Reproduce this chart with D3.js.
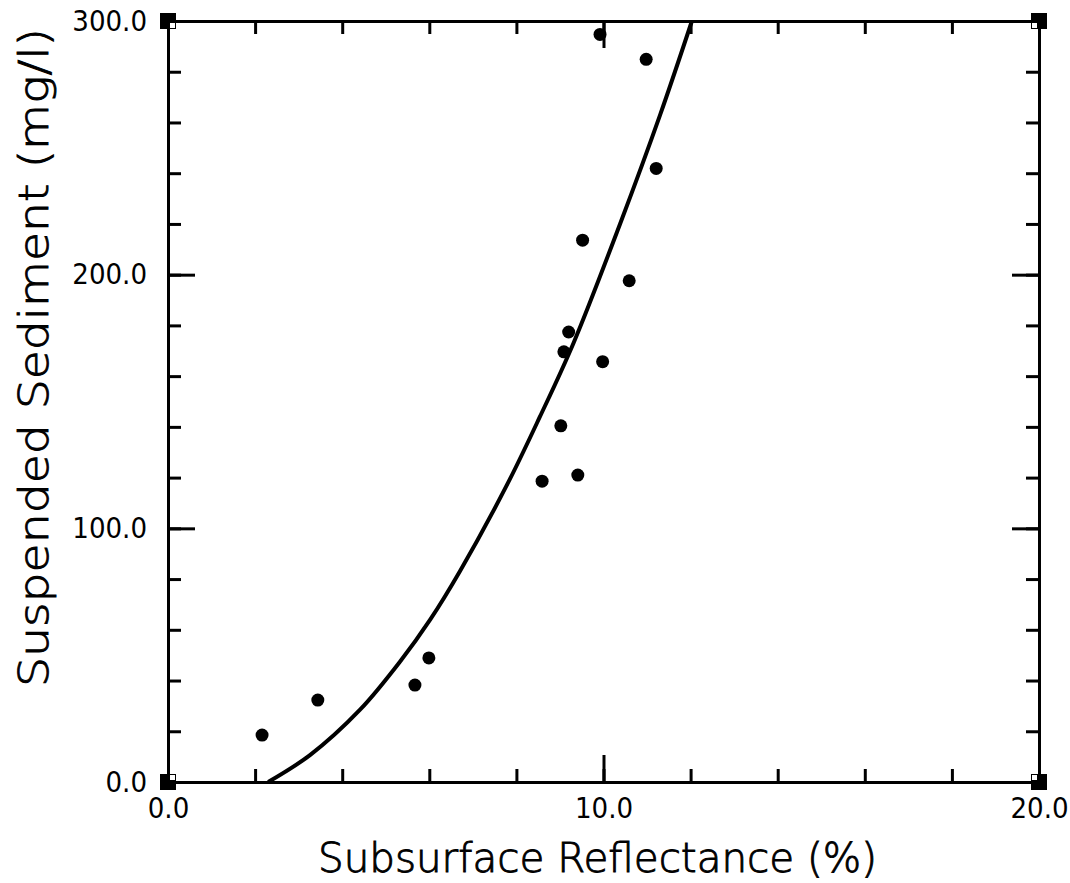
<!DOCTYPE html>
<html>
<head>
<meta charset="utf-8">
<script src="https://cdn.jsdelivr.net/npm/d3@7"></script>
<style>
  body { margin: 0; background: #fff; }
  .canvas text { fill: #000; }
</style>
</head>
<body>
<div class="canvas"></div>
<script>
// ---- data ----
const reflectance = [2.16, 3.44, 5.67, 5.99, 8.59, 9.41, 9.02, 9.09, 9.20, 9.98, 10.59, 9.52, 11.21, 10.98, 9.92];
const sediment    = [18.5, 32.3, 38.2, 48.9, 118.6, 121.0, 140.4, 169.6, 177.4, 165.7, 197.6, 213.6, 241.9, 284.9, 294.7];

// fitted curve
const curveX = [2.30, 3.26, 4.41, 5.33, 6.02, 6.70, 7.78, 8.54, 9.31, 10.38, 11.30, 12.03];
const curveY = [0, 10.6, 28.5, 47.5, 64.0, 83.0, 117.0, 144.0, 173.0, 220.0, 263.0, 300.0];

const xMinorTicks = [0, 2, 4, 6, 8, 10, 12, 14, 16, 18, 20];
const xMajorTicks = [0, 10, 20];
const yMinorTicks = [0, 20, 40, 60, 80, 100, 120, 140, 160, 180, 200, 220, 240, 260, 280, 300];
const yMajorTicks = [0, 100, 200, 300];

const xTitle = 'Subsurface Reflectance (%)';
const yTitle = 'Suspended Sediment (mg/l)';

// ---- layout ----
const width = 1070, height = 883;
const margin = { top: 21, right: 31, bottom: 101, left: 168 };
const graphWidth = width - margin.left - margin.right;
const graphHeight = height - margin.top - margin.bottom;

const svg = d3.select('.canvas')
    .append('svg')
    .attr('width', width)
    .attr('height', height);

const graph = svg.append('g')
    .attr('transform', `translate(${margin.left}, ${margin.top})`);

const x = d3.scaleLinear().domain([0, 20]).range([0, graphWidth]);
const y = d3.scaleLinear().domain([0, 300]).range([graphHeight, 0]);

const labelFont = '"DejaVu Sans Condensed", "DejaVu Sans", sans-serif';
const titleFont = '"DejaVu Sans", sans-serif';
const fmt = d3.format('.1f');

// axes: minor (short) ticks, then major (long) ticks with labels
const addAxis = (axisFn, transform, values, size, labels, pad) => {
    const axis = axisFn
        .tickValues(values)
        .tickSizeInner(-size)
        .tickSizeOuter(0)
        .tickPadding(pad || 0)
        .tickFormat(labels ? fmt : '');
    const g = graph.append('g')
        .attr('transform', transform)
        .call(axis);
    g.selectAll('line, path')
        .attr('stroke', '#000')
        .attr('stroke-width', 3);
    g.selectAll('text')
        .attr('font-family', labelFont)
        .attr('font-size', 29)
        .attr('fill', '#000');
    return g;
};

addAxis(d3.axisBottom(x), `translate(0, ${graphHeight})`, xMinorTicks, 13, false);
addAxis(d3.axisBottom(x), `translate(0, ${graphHeight})`, xMajorTicks, 27, true, 15);
addAxis(d3.axisTop(x), 'translate(0, 0)', xMinorTicks, 13, false);
addAxis(d3.axisTop(x), 'translate(0, 0)', xMajorTicks, 27, false);
addAxis(d3.axisLeft(y), 'translate(0, 0)', yMinorTicks, 13, false);
addAxis(d3.axisLeft(y), 'translate(0, 0)', yMajorTicks, 27, true, 21);
addAxis(d3.axisRight(y), `translate(${graphWidth}, 0)`, yMinorTicks, 13, false);
addAxis(d3.axisRight(y), `translate(${graphWidth}, 0)`, yMajorTicks, 27, false);

// corner markers: black square with a white notch on the inner side
const corners = [
    { cx: x(0), cy: y(0), dx: 1, dy: -1 },
    { cx: x(0), cy: y(300), dx: 1, dy: 1 },
    { cx: x(20), cy: y(300), dx: -1, dy: 1 },
    { cx: x(20), cy: y(0), dx: -1, dy: -1 }
];
corners.forEach(c => {
    graph.append('rect')
        .attr('x', c.cx - 8).attr('y', c.cy - 8)
        .attr('width', 16).attr('height', 16)
        .attr('fill', '#000');
    graph.append('rect')
        .attr('x', c.dx > 0 ? c.cx + 2 : c.cx - 7)
        .attr('y', c.dy > 0 ? c.cy + 2 : c.cy - 7)
        .attr('width', 5).attr('height', 5)
        .attr('fill', '#fff');
});

// fitted curve
const line = d3.line()
    .x(d => x(d[0]))
    .y(d => y(d[1]))
    .curve(d3.curveCatmullRom);

graph.append('path')
    .datum(d3.zip(curveX, curveY))
    .attr('d', line)
    .attr('fill', 'none')
    .attr('stroke', '#000')
    .attr('stroke-width', 4);

// observations
graph.selectAll('circle')
    .data(d3.zip(reflectance, sediment))
    .enter()
    .append('circle')
    .attr('cx', d => x(d[0]))
    .attr('cy', d => y(d[1]))
    .attr('r', 6.5)
    .attr('fill', '#000');

// axis titles
svg.append('text')
    .attr('x', 597.5)
    .attr('y', 872)
    .attr('text-anchor', 'middle')
    .attr('font-family', titleFont)
    .attr('font-weight', 200)
    .attr('font-size', 40)
    .attr('stroke', '#000')
    .attr('stroke-width', 0.9)
    .attr('textLength', 559)
    .attr('lengthAdjust', 'spacingAndGlyphs')
    .text(xTitle);

svg.append('text')
    .attr('transform', 'translate(48, 357.5) rotate(-90)')
    .attr('text-anchor', 'middle')
    .attr('font-family', titleFont)
    .attr('font-weight', 200)
    .attr('font-size', 40)
    .attr('stroke', '#000')
    .attr('stroke-width', 0.9)
    .attr('textLength', 659)
    .attr('lengthAdjust', 'spacingAndGlyphs')
    .text(yTitle);
</script>
</body>
</html>
